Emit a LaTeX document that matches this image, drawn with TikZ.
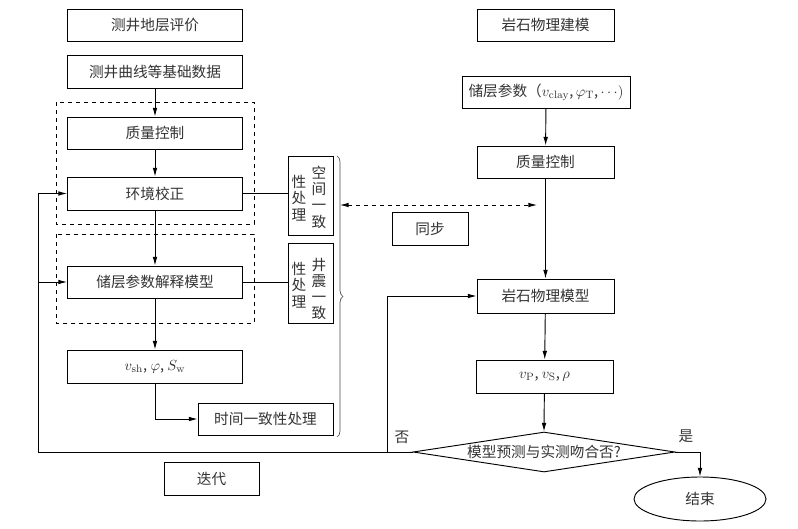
\documentclass[tikz,border=0pt]{standalone}
\usepackage[no-math]{fontspec}
\setmainfont{Noto Sans CJK SC}
\usetikzlibrary{arrows.meta,shapes.geometric,decorations.pathreplacing}
\begin{document}
\begin{tikzpicture}[x=0.75pt,y=-0.75pt,
  line width=0.7pt,
  every node/.style={font=\fontsize{11pt}{13pt}\selectfont, text=black!80},
  box/.style 2 args={draw, inner sep=0pt, minimum width=#1*0.75pt, minimum height=#2*0.75pt},
  dbox/.style={draw, dashed},
  arr/.style={-{Latex[length=6.5pt,width=3.5pt]}},
  vcol/.style={align=center, inner sep=0pt, font=\fontsize{11pt}{12.2pt}\selectfont},
  lbl/.style={inner sep=0pt}]
\useasboundingbox (0,0) rectangle (798,528);

% dashed groups
\draw[dbox] (56,102) rectangle (254,224);
\draw[dbox] (56,234) rectangle (254,323);

% left column
\node[box={175}{32}] (t1) at (155,25) {测井地层评价};
\node[box={175}{33}] (t2) at (155,71.5) {测井曲线等基础数据};
\node[box={175}{32}] (qc1) at (155,133) {质量控制};
\node[box={175}{33}] (env) at (155,193.5) {环境校正};
\node[box={175}{32}] (resm) at (155,282) {储层参数解释模型};
\node[box={175}{33}] (vsh) at (155,366.5) {$v_{\mathrm{sh}}$, $\varphi$, $S_{\mathrm{w}}$};
\node[box={135}{32}] (tm) at (265.5,419) {时间一致性处理};

% vertical boxes
\node[box={45}{79}] (sp) at (310.5,195.5) {};
\node[vcol] (spR) at (319,197) {空\\间\\一\\致};
\node[vcol] (spL) at (299,198) {性\\处\\理};
\node[box={45}{80}] (jz) at (310.5,283) {};
\node[vcol] (jzR) at (319,289) {井\\震\\一\\致};
\node[vcol] (jzL) at (299,285) {性\\处\\理};

% brace
\coordinate (bt) at (337,156);
\coordinate (bb) at (337,437);
\draw[line width=0.5pt, black!70, decorate, decoration={brace, amplitude=4.5pt}] (bt) -- (bb);

% right column
\node[box={137}{32}] (rt) at (545.5,25) {岩石物理建模};
\node[box={168}{32}] (rp) at (546,92) {储层参数（$v_{\mathrm{clay}}$,$\,\varphi_{\mathrm{T}}$,$\,\cdots)$};
\node[box={137}{32}] (qc2) at (545.5,162) {质量控制};
\node[box={76}{33}] (sync) at (430,228.5) {同步};
\node[box={137}{34}] (rpm) at (545.5,296) {岩石物理模型};
\node[box={137}{33}] (vp) at (544.5,376.5) {$v_{\mathrm{P}}$, $v_{\mathrm{S}}$,$\,\rho$};
\node[draw, diamond, aspect=6.55, inner sep=0pt, minimum width=262*0.75pt, minimum height=40*0.75pt] (dec) at (544,452) {模型预测与实测吻合否?};
\node[draw, ellipse, inner sep=0pt, minimum width=132*0.75pt, minimum height=44*0.75pt] (end) at (700,499) {结束};
\node[box={95}{33}] (it) at (211.5,478.5) {迭代};

\node[lbl] (no) at (402,437) {否};
\node[lbl] (yes) at (686,436) {是};

% left connectors
\draw[arr] (t2) -- (qc1);
\draw[arr] (qc1) -- (env);
\draw[arr] (env) -- (resm);
\draw[arr] (resm) -- (vsh);
\draw[arr] (vsh.south) |- (tm.west);
\draw (env.east) -- (env.east -| sp.west);
\draw (resm.east) -- (resm.east -| jz.west);

% right connectors
\draw[arr] (rp) -- (qc2);
\draw[arr] (qc2) -- (rpm);
\draw[arr] (rpm) -- (vp);
\draw[arr] (vp) -- (dec.north);
\draw[arr] (dec.east) -| (end.north);

% feedback loops
\coordinate (L) at (38,452);
\coordinate (R) at (387,452);
\draw[arr] (dec.west) -- (L) |- (env.west);
\draw[arr] (L |- resm.west) -- (resm.west);
\draw[arr] (R) |- (rpm.west);

% sync dashed arrow
\coordinate (s1) at (340,205);
\coordinate (s2) at (537,205);
\draw[dashed, {Latex[length=6.5pt,width=3.5pt]}-{Latex[length=6.5pt,width=3.5pt]}] (s1) -- (s2);
\end{tikzpicture}
\end{document}
